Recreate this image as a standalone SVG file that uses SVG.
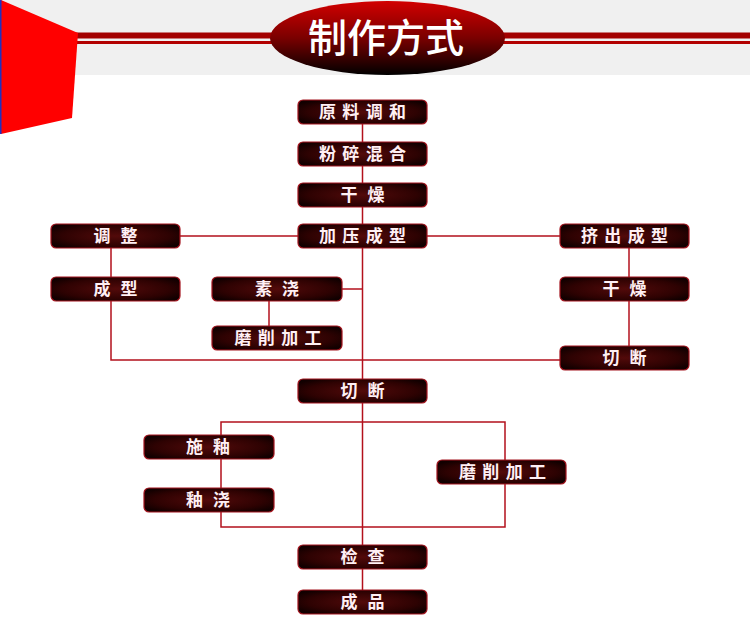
<svg xmlns="http://www.w3.org/2000/svg" width="750" height="628" viewBox="0 0 750 628">
<defs>
<linearGradient id="titleGrad" x1="0" y1="0" x2="0" y2="1">
<stop offset="0" stop-color="#d20000"/>
<stop offset="0.5" stop-color="#7a0000"/>
<stop offset="1" stop-color="#000000"/>
</linearGradient>
<radialGradient id="boxGrad" cx="0.5" cy="0.5" r="0.6">
<stop offset="0" stop-color="#520a0a"/>
<stop offset="0.7" stop-color="#2e0202"/>
<stop offset="1" stop-color="#120000"/>
</radialGradient>
</defs>
<style>
.box{fill:url(#boxGrad);stroke:#a3141e;stroke-width:1.2}
.lbl{font-family:"Noto Sans CJK SC","Noto Sans",sans-serif;font-size:17px;font-weight:bold;fill:#fff0f4;text-anchor:middle}
.ln{stroke:#b3101c;stroke-width:1.5;fill:none}
</style>
<rect x="0" y="0" width="750" height="628" fill="#ffffff"/>
<rect x="0" y="0" width="750" height="75" fill="#f0f0f0"/>
<rect x="60" y="32.5" width="690" height="6" fill="#a30000"/>
<rect x="60" y="41" width="690" height="3" fill="#b20000"/>
<polygon points="1,0 78,33 72,118 1,134" fill="#ff0000"/>
<rect x="0" y="0" width="1.5" height="134" fill="#2030c0"/>
<g id="title">
<ellipse cx="387.5" cy="38" rx="117.5" ry="37" fill="url(#titleGrad)"/>
<text x="386" y="52" font-family="Noto Sans CJK SC,sans-serif" font-size="39" font-weight="500" fill="#ffffff" text-anchor="middle" textLength="156" lengthAdjust="spacing">制作方式</text>
</g>
<g id="connectors">
<path class="ln" d="M362.5 112V601"/>
<path class="ln" d="M180 236H298M427 236H560"/>
<path class="ln" d="M111 247V360H560"/>
<path class="ln" d="M342 289H362.5"/>
<path class="ln" d="M269 301V326"/>
<path class="ln" d="M629 247V346"/>
<path class="ln" d="M221 422H505V527H221Z"/>
</g>
<g id="n1"><rect class="box" x="298" y="100" width="129" height="24" rx="5"/><text class="lbl" x="362.5" y="118" textLength="87" lengthAdjust="spacing">原料调和</text></g>
<g id="n2"><rect class="box" x="298" y="142" width="129" height="24" rx="5"/><text class="lbl" x="362.5" y="160" textLength="87" lengthAdjust="spacing">粉碎混合</text></g>
<g id="n3"><rect class="box" x="298" y="183" width="129" height="24" rx="5"/><text class="lbl" x="362.5" y="201" textLength="44" lengthAdjust="spacing">干燥</text></g>
<g id="n4"><rect class="box" x="298" y="224" width="129" height="24" rx="5"/><text class="lbl" x="362.5" y="242" textLength="87" lengthAdjust="spacing">加压成型</text></g>
<g id="n5"><rect class="box" x="51" y="224" width="129" height="24" rx="5"/><text class="lbl" x="115.5" y="242" textLength="44" lengthAdjust="spacing">调整</text></g>
<g id="n6"><rect class="box" x="51" y="277" width="129" height="24" rx="5"/><text class="lbl" x="115.5" y="295" textLength="44" lengthAdjust="spacing">成型</text></g>
<g id="n7"><rect class="box" x="212" y="277" width="130" height="24" rx="5"/><text class="lbl" x="277" y="295" textLength="44" lengthAdjust="spacing">素浇</text></g>
<g id="n8"><rect class="box" x="212" y="326" width="130" height="24" rx="5"/><text class="lbl" x="278" y="344" textLength="87" lengthAdjust="spacing">磨削加工</text></g>
<g id="n9"><rect class="box" x="560" y="224" width="129" height="24" rx="5"/><text class="lbl" x="624.5" y="242" textLength="87" lengthAdjust="spacing">挤出成型</text></g>
<g id="n10"><rect class="box" x="560" y="277" width="129" height="24" rx="5"/><text class="lbl" x="624.5" y="295" textLength="44" lengthAdjust="spacing">干燥</text></g>
<g id="n11"><rect class="box" x="560" y="346" width="129" height="24" rx="5"/><text class="lbl" x="624.5" y="364" textLength="44" lengthAdjust="spacing">切断</text></g>
<g id="n12"><rect class="box" x="298" y="379" width="129" height="24" rx="5"/><text class="lbl" x="362.5" y="397" textLength="44" lengthAdjust="spacing">切断</text></g>
<g id="n13"><rect class="box" x="144" y="435" width="130" height="24" rx="5"/><text class="lbl" x="208" y="453" textLength="44" lengthAdjust="spacing">施釉</text></g>
<g id="n14"><rect class="box" x="144" y="488" width="130" height="24" rx="5"/><text class="lbl" x="208" y="506" textLength="44" lengthAdjust="spacing">釉浇</text></g>
<g id="n15"><rect class="box" x="437" y="460" width="129" height="24" rx="5"/><text class="lbl" x="502.5" y="478" textLength="87" lengthAdjust="spacing">磨削加工</text></g>
<g id="n16"><rect class="box" x="298" y="545" width="129" height="24" rx="5"/><text class="lbl" x="362.5" y="563" textLength="44" lengthAdjust="spacing">检查</text></g>
<g id="n17"><rect class="box" x="298" y="590" width="129" height="24" rx="5"/><text class="lbl" x="362.5" y="608" textLength="44" lengthAdjust="spacing">成品</text></g>
</svg>
